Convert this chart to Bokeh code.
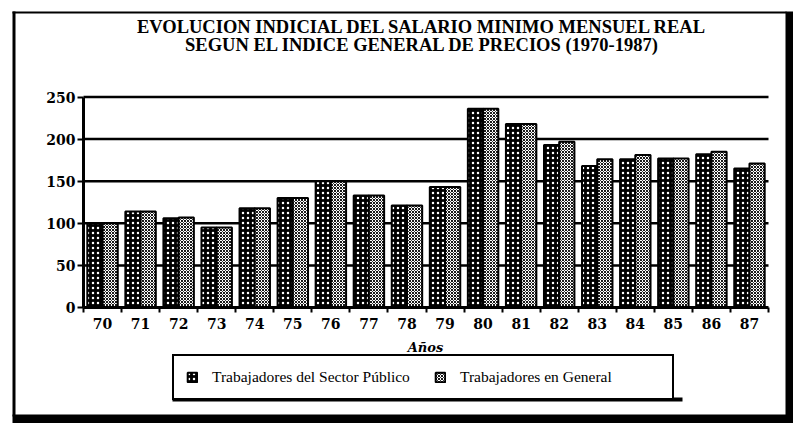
import numpy as np
from bokeh.plotting import figure
from bokeh.models import (ColumnDataSource, FixedTicker, Range1d, Label,
                          Legend, LegendItem)
from bokeh.transform import dodge
from bokeh.embed import file_html
from bokeh.resources import INLINE

# ---- data ----
years = ["70", "71", "72", "73", "74", "75", "76", "77", "78", "79",
         "80", "81", "82", "83", "84", "85", "86", "87"]
publico = [100, 114, 106, 95, 118, 130, 150, 133, 121, 143,
           236, 218, 193, 168, 176, 177, 182, 165]
general = [100, 114, 107, 95, 118, 130, 150, 133, 121, 143,
           236, 218, 197, 176, 181, 177, 185, 171]
y_ticks = [0, 50, 100, 150, 200, 250]
title1 = "EVOLUCION INDICIAL DEL SALARIO MINIMO MENSUEL REAL"
title2 = "SEGUN EL INDICE GENERAL DE PRECIOS (1970-1987)"
series_names = ["Trabajadores del Sector Público", "Trabajadores en General"]
x_label = "Años"

SERIF = "Liberation Serif, Times New Roman, serif"

# ---- layout (pixels of the 793x423 canvas) ----
W, H = 793, 423
PLOT_L, PLOT_R, PLOT_B, PLOT_T = 83, 768, 307, 96.5
n = len(years)
kx = (PLOT_R - PLOT_L) / n
ky = (PLOT_B - PLOT_T) / y_ticks[-1]


def px_x(px):
    return (px - PLOT_L) / kx


def px_y(py):
    return (PLOT_B - py) / ky


centers = np.arange(n) + 0.5
src = ColumnDataSource(dict(x=centers, pub=publico, gen=general))

p = figure(width=W, height=H, output_backend="svg", toolbar_location=None,
           x_range=Range1d(px_x(0), px_x(W)), y_range=Range1d(px_y(H), px_y(0)),
           min_border=0, background_fill_color="white", border_fill_color="white")
p.outline_line_color = None
if p.title is not None:
    p.title.visible = False
p.xgrid.visible = False
p.ygrid.visible = False

# horizontal gridlines across the plot area
p.segment(x0=0, x1=n, y0=y_ticks[1:], y1=y_ticks[1:], line_color="black", line_width=2.5)

# bars
r1 = p.vbar(x=dodge("x", -0.2), top="pub", width=0.4, source=src,
            fill_color="black", line_color="black", line_width=2,
            hatch_pattern="dot", hatch_color="white", hatch_scale=5, hatch_weight=2.6)
r2 = p.vbar(x=dodge("x", 0.2), top="gen", width=0.4, source=src,
            fill_color="white", line_color="black", line_width=2,
            hatch_pattern="diagonal_cross", hatch_color="black", hatch_scale=3, hatch_weight=0.9)

# x axis, fixed at y = 0
xa = p.xaxis[0]
xa.fixed_location = 0
xa.bounds = (0, n)
xa.ticker = FixedTicker(ticks=list(centers), minor_ticks=list(range(n + 1)))
xa.major_label_overrides = {float(c): y for c, y in zip(centers, years)}
xa.major_tick_line_color = None
xa.minor_tick_line_color = "black"
xa.minor_tick_line_width = 2
xa.minor_tick_out = 5
xa.minor_tick_in = 0
xa.axis_line_width = 3
xa.axis_line_color = "black"
xa.major_label_text_font = "DejaVu Serif"
xa.major_label_text_font_style = "bold"
xa.major_label_text_font_size = "14px"
xa.major_label_text_color = "black"
xa.major_label_standoff = 4

# y axis, fixed at x = 0
ya = p.yaxis[0]
ya.fixed_location = 0
ya.bounds = (0, y_ticks[-1])
ya.ticker = FixedTicker(ticks=y_ticks)
ya.minor_tick_line_color = None
ya.major_tick_line_color = "black"
ya.major_tick_line_width = 2
ya.major_tick_out = 6
ya.major_tick_in = 0
ya.axis_line_width = 3
ya.axis_line_color = "black"
ya.major_label_text_font = "DejaVu Serif"
ya.major_label_text_font_style = "bold"
ya.major_label_text_font_size = "14px"
ya.major_label_text_color = "black"
ya.major_label_standoff = 2

# texts
def add_text(txt, px, py, size, style, font=SERIF):
    p.add_layout(Label(x=px_x(px), y=px_y(py), text=txt, text_align="center",
                       text_baseline="middle", text_font=font, text_font_style=style,
                       text_font_size=size, text_color="black"))


add_text(title1, 422, 26, "18.5px", "bold")
add_text(title2, 422, 44, "18.5px", "bold")
add_text(x_label, 425, 347, "13px", "bold italic", font="DejaVu Serif")

# outer (scanned page) border and thicker legend bottom edge
p.quad(left=[px_x(12), px_x(12), px_x(785), px_x(12), px_x(172)],
       right=[px_x(15), px_x(786), px_x(W), px_x(W), px_x(682)],
       top=[px_y(11), px_y(11), px_y(11), px_y(414), px_y(397)],
       bottom=[px_y(416), px_y(13), px_y(H), px_y(H), px_y(401)],
       fill_color="black", line_color=None)

# legend
legend = Legend(items=[LegendItem(label=series_names[0], renderers=[r1]),
                       LegendItem(label=series_names[1], renderers=[r2])],
                orientation="horizontal", location=(172, H - 400),
                border_line_color="black", border_line_width=2, border_line_alpha=1,
                background_fill_color="white", background_fill_alpha=1,
                padding=12, margin=0, spacing=22, label_standoff=14,
                glyph_width=12, glyph_height=12, label_height=12, label_width=200,
                label_text_font=SERIF, label_text_font_size="15.5px",
                label_text_color="black")
p.add_layout(legend, "center")

open("out.html", "w").write(file_html(p, INLINE))
